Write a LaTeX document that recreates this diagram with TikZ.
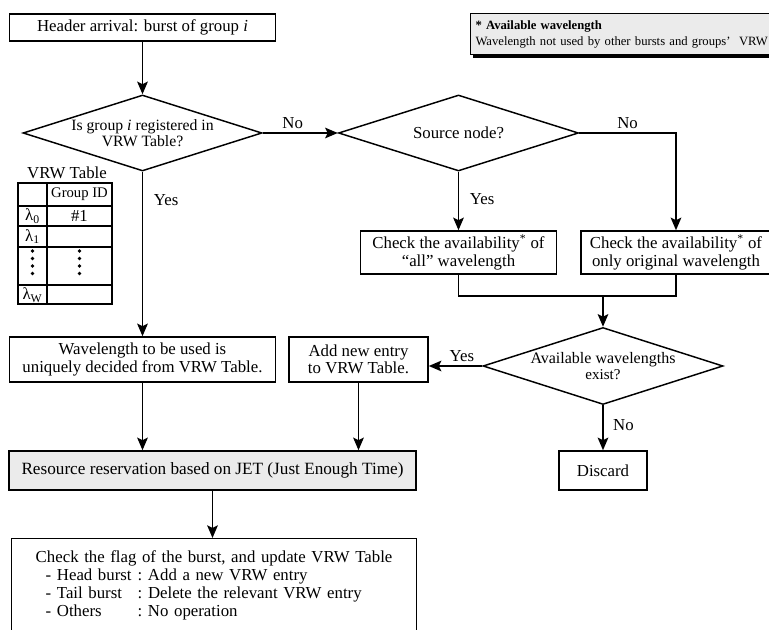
\documentclass[tikz,border=0pt]{standalone}
\usepackage{fontspec}
\setmainfont{Liberation Serif}
\usepackage{tikz}
\usetikzlibrary{shapes.geometric,arrows.meta,positioning,shadows}

\newcommand{\flowfont}{\fontsize{12.6}{13}\selectfont}
\newcommand{\notefont}{\fontsize{9.5}{12}\selectfont}

\begin{document}
\begin{tikzpicture}[x=0.75pt, y=-0.75pt,
    process/.style={rectangle, draw, line width=1.1pt, fill=white, align=center, inner sep=2pt, font=\flowfont},
    jet/.style={process, fill=black!8},
    decision/.style={diamond, draw, line width=1.1pt, fill=white, align=center, inner sep=0pt, shape aspect=3.1, font=\flowfont},
    note/.style={rectangle, draw, line width=0.8pt, fill=black!8, align=left, anchor=north west, inner xsep=3.75pt, inner ysep=4pt, font=\notefont, drop shadow={shadow xshift=1.5pt, shadow yshift=-2.25pt, fill=black, opacity=1}},
    answer/.style={font=\flowfont, inner sep=3pt},
    cell/.style={font=\fontsize{11}{12}\selectfont, inner sep=0pt},
    tabline/.style={line width=1pt},
    joinline/.style={line width=1.2pt},
    arrow/.style={-{Stealth[length=9.5pt, width=8pt, inset=2pt]}, line width=1.2pt}
]
\useasboundingbox (0,0) rectangle (769,630);
\clip (0,0) rectangle (769,630);

% Note on available wavelength
\node[note, text width=232pt, minimum height=30.75pt] (avnote) at (470,13) {\textbf{* Available wavelength}\\Wavelength not used by other bursts and groups’~~VRW};

% Start
\node[process, minimum width=199.5pt, minimum height=20.25pt] (header) at (142.5,27.5) {Header arrival: burst of group \textit{i}};

% Decisions
\node[decision, minimum width=179.25pt, minimum height=57pt, font=\fontsize{11.8}{12.5}\selectfont] (isreg) at (142.5,133) {Is group \textit{i} registered in\\VRW Table?};
\node[decision, minimum width=180pt, minimum height=57pt] (src) at (458.5,133) {Source node?};

% Availability checks
\node[process, minimum width=147pt, minimum height=32.25pt] (chkall) at (458.5,252.5) {Check the availability\textsuperscript{*} of\\“all” wavelength};
\node[process, minimum width=142.5pt, minimum height=32.25pt] (chkorig) at (676,252.5) {Check the availability\textsuperscript{*} of\\only original wavelength};
\coordinate (join) at (603,296);
\node[decision, minimum width=180pt, minimum height=57.75pt, font=\fontsize{12}{12.5}\selectfont] (avail) at (603,366) {Available wavelengths\\{\fontsize{11.3}{12}\selectfont exist?}};

% Wavelength decided
\node[process, minimum width=199.5pt, minimum height=33.75pt] (uniq) at (142.5,359.5) {Wavelength to be used is\\uniquely decided from VRW Table.};
\node[process, minimum width=104.25pt, minimum height=33.75pt] (addentry) at (358.5,359.5) {Add new entry\\to VRW Table.};

% Reservation
\node[jet, minimum width=305.25pt, minimum height=29.25pt, font=\fontsize{12.9}{13.5}\selectfont] (resv) at (212.5,470.5) {Resource reservation based on JET (Just Enough Time)};
\node[process, minimum width=66pt, minimum height=29.25pt] (discard) at (603,470.5) {Discard};

% Flag check
\node[process, anchor=north west, align=left, text width=267.75pt, inner xsep=18pt, inner ysep=9pt, font=\fontsize{12.6}{13.5}\selectfont] (flag) at (11,538) {Check the flag of the burst, and update VRW Table\\
\hspace*{7.5pt}\makebox[69pt][l]{- Head burst}:~Add a new VRW entry\\
\hspace*{7.5pt}\makebox[69pt][l]{- Tail burst}:~Delete the relevant VRW entry\\
\hspace*{7.5pt}\makebox[69pt][l]{- Others}:~No operation};

% VRW table
\node[font=\flowfont, inner sep=0pt] (vrwtitle) at (67,173) {VRW Table};
\draw[tabline] (18,183) rectangle (112,304);
\draw[tabline] (47,183) -- (47,304);
\foreach \y in {206,226,247,285}
    \draw[tabline] (18,\y) -- (112,\y);
\node[cell] (gid) at (79.5,194.5) {Group ID};
\node[cell, font=\flowfont] (lam0) at (32.5,216) {λ\textsubscript{0}};
\node[cell, font=\flowfont] (grp1) at (79.5,216) {\#1};
\node[cell, font=\flowfont] (lam1) at (32.5,236.5) {λ\textsubscript{1}};
\node[cell, font=\flowfont] (lamw) at (32.5,295) {λ\textsubscript{W}};
\foreach \x in {32.5,79.5}
    \foreach \y in {251,258.5,266,273.5}
        \fill (\x,\y) circle (1.4pt);

% Arrows
\draw[arrow] (header) -- (isreg);
\draw[arrow] (isreg) -- node[answer, above, pos=0.4] (noreg) {No} (src);
\draw[arrow] (isreg) -- node[answer, right=5pt, pos=0.17] (yesreg) {Yes} (uniq);
\draw[arrow] (src) -- node[answer, right=5pt, pos=0.47] (yessrc) {Yes} (chkall);
\draw[arrow] (src.east) -| node[answer, above, pos=0.25] (nosrc) {No} (chkorig.north);

\draw[joinline] (chkall.south) |- (join) -| (chkorig.south);
\draw[arrow] (join) -- (avail.north);

\draw[arrow] (avail.west) -- node[answer, above, pos=0.38] (yesavail) {Yes} (addentry.east |- avail.west);
\draw[arrow] (avail) -- node[answer, right=4pt, pos=0.43] (noavail) {No} (discard);

\draw[arrow] (uniq) -- (uniq |- resv.north);
\draw[arrow] (addentry) -- (addentry |- resv.north);
\draw[arrow] (resv) -- (resv |- flag.north);

\end{tikzpicture}
\end{document}
